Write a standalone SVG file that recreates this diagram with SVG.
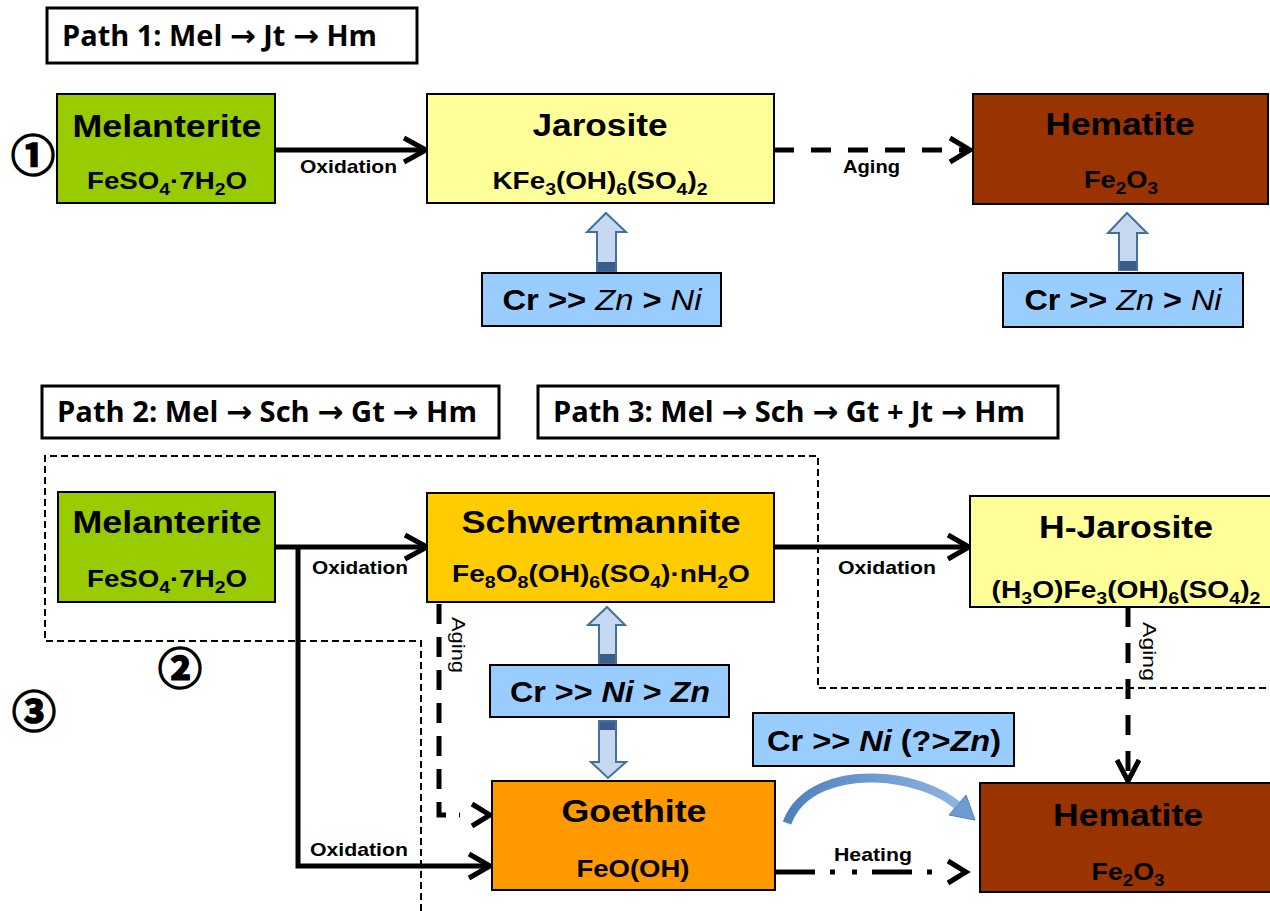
<svg xmlns="http://www.w3.org/2000/svg" width="1270" height="911" viewBox="0 0 1270 911">
<defs>
<style>
.bx{stroke:#000;stroke-width:2}
.pb{fill:#fff;stroke:#000;stroke-width:3}
.t{font-family:"Liberation Sans",Arial,sans-serif;font-weight:bold;fill:#000}
.ti{font-size:31px;text-anchor:middle}
.fo{font-size:23px;text-anchor:middle}
.lb{font-size:19px}
.cr{font-size:30px;text-anchor:middle}
.pt{font-family:"Open Sans","Liberation Sans",sans-serif;font-weight:bold;font-size:28px;fill:#000}
.ar{font-family:"DejaVu Sans",sans-serif;font-weight:bold;font-size:30px}
.num{font-family:"Noto Sans CJK JP","DejaVu Sans",sans-serif;font-weight:bold;font-size:44px;text-anchor:middle;fill:#000;stroke:#000;stroke-width:1.6}
.ln{stroke:#000;stroke-width:5;fill:none}
.hd{stroke:#000;stroke-width:5;fill:none;stroke-linejoin:miter;stroke-linecap:butt}
.dsh{stroke-dasharray:20 17}
.bd{stroke:#000;stroke-width:2;fill:none;stroke-dasharray:7 4}
.ba{fill:#C6D9F1;stroke:#41719C;stroke-width:2}
.bk{fill:#385D8A}
.it{font-style:italic;font-weight:normal}
.bi{font-style:italic}
</style>
<linearGradient id="cg" x1="0" y1="0" x2="1" y2="0">
<stop offset="0" stop-color="#4F81BD"/>
<stop offset="1" stop-color="#8DB3E2"/>
</linearGradient>
</defs>
<rect width="1270" height="911" fill="#fff"/>

<!-- boundary -->
<polyline class="bd" points="421,911 421,641 45,641 45,456 818,456 818,688 1270,688"/>

<!-- path labels -->
<g id="path1"><rect class="pb" x="47" y="8" width="370" height="55"/><text class="pt" x="62" y="46" textLength="315" lengthAdjust="spacingAndGlyphs">Path 1: Mel <tspan class="ar">→</tspan> Jt <tspan class="ar">→</tspan> Hm</text></g>
<g id="path2"><rect class="pb" x="42" y="386" width="457" height="52"/><text class="pt" x="57" y="422" textLength="420" lengthAdjust="spacingAndGlyphs">Path 2: Mel <tspan class="ar">→</tspan> Sch <tspan class="ar">→</tspan> Gt <tspan class="ar">→</tspan> Hm</text></g>
<g id="path3"><rect class="pb" x="538" y="386" width="520" height="52"/><text class="pt" x="553" y="422" textLength="472" lengthAdjust="spacingAndGlyphs">Path 3: Mel <tspan class="ar">→</tspan> Sch <tspan class="ar">→</tspan> Gt + Jt <tspan class="ar">→</tspan> Hm</text></g>

<!-- circled numbers -->
<text class="num" x="33" y="153" dominant-baseline="central">①</text>
<text class="num" x="180" y="666" dominant-baseline="central">②</text>
<text class="num" x="34" y="709" dominant-baseline="central">③</text>

<!-- connectors -->
<g id="connectors">
<line class="ln" x1="275" y1="150" x2="424" y2="150"/>
<polyline class="hd" points="404,138 426,150 404,162"/>
<line class="ln dsh" x1="774" y1="150" x2="966" y2="150"/>
<polyline class="hd" points="950,138 970,150 950,162"/>

<polyline class="ln" points="275,547 425,547"/>
<polyline class="hd" points="405,535 427,547 405,559"/>
<polyline class="ln" points="298,547 298,866 488,866"/>
<polyline class="hd" points="469,854 490,866 469,878"/>
<line class="ln" x1="774" y1="547" x2="966" y2="547"/>
<polyline class="hd" points="948,535 969,547 948,559"/>

<polyline class="ln" style="stroke-dasharray:20 13" points="439,604 439,815 460,815"/>
<polyline class="hd" points="472,804 490,815 472,826"/>

<line class="ln" style="stroke-dasharray:20 16" x1="1128" y1="607" x2="1128" y2="778"/>
<polyline class="hd" points="1117,760 1128,781 1139,760"/>

<line class="ln" style="stroke-dasharray:40 15 5 17 5 15" x1="775" y1="872" x2="940" y2="872"/>
<polyline class="hd" points="948,861 966,872 948,883"/>

<path d="M787,823 C800,788 840,777 875,778 C910,779 940,791 957,805" fill="none" stroke="url(#cg)" stroke-width="9"/>
<polygon points="966,795 975,820 949,815" fill="#6F9BD2" stroke="#4F81BD" stroke-width="1"/>

<!-- block arrows -->
<polygon class="ba" points="606,213 626,232 616,232 616,271 597,271 597,232 587,232"/>
<rect class="bk" x="598" y="262" width="17" height="9"/>
<polygon class="ba" points="1127,213 1147,233 1137,233 1137,270 1119,270 1119,233 1108,233"/>
<rect class="bk" x="1120" y="261" width="16" height="9"/>
<polygon class="ba" points="607,607 625,625 616,625 616,663 599,663 599,625 588,625"/>
<rect class="bk" x="600" y="654" width="15" height="9"/>
<polygon class="ba" points="599,721 616,721 616,762 626,762 608,778 591,762 599,762"/>
<rect class="bk" x="600" y="722" width="15" height="8"/>
</g>

<!-- labels on connectors -->
<text class="t lb" x="300" y="173" textLength="97" lengthAdjust="spacingAndGlyphs">Oxidation</text>
<text class="t lb" x="843" y="173" textLength="57" lengthAdjust="spacingAndGlyphs">Aging</text>
<text class="t lb" x="312" y="574" textLength="96" lengthAdjust="spacingAndGlyphs">Oxidation</text>
<text class="t lb" x="310" y="856" textLength="98" lengthAdjust="spacingAndGlyphs">Oxidation</text>
<text class="t lb" x="838" y="574" textLength="98" lengthAdjust="spacingAndGlyphs">Oxidation</text>
<text class="t lb" x="834" y="861" textLength="78" lengthAdjust="spacingAndGlyphs">Heating</text>
<text class="t lb" transform="translate(452,617) rotate(90)" textLength="56" lengthAdjust="spacingAndGlyphs" style="font-weight:normal">Aging</text>
<text class="t lb" transform="translate(1143,622) rotate(90)" textLength="59" lengthAdjust="spacingAndGlyphs" style="font-weight:normal">Aging</text>

<!-- nodes -->
<g id="mel1">
<rect class="bx" x="57" y="94" width="218" height="109" fill="#99CC00"/>
<text class="t ti" x="167" y="137" textLength="189" lengthAdjust="spacingAndGlyphs">Melanterite</text>
<text class="t fo" x="167" y="189" textLength="160" lengthAdjust="spacingAndGlyphs">FeSO<tspan font-size="16" dy="6">4</tspan><tspan dy="-6">·7H</tspan><tspan font-size="16" dy="6">2</tspan><tspan dy="-6">O</tspan></text>
</g>
<g id="jarosite">
<rect class="bx" x="427" y="94" width="347" height="109" fill="#FFFF99"/>
<text class="t ti" x="600" y="136" textLength="135" lengthAdjust="spacingAndGlyphs">Jarosite</text>
<text class="t fo" x="600" y="189" textLength="215" lengthAdjust="spacingAndGlyphs">KFe<tspan font-size="16" dy="6">3</tspan><tspan dy="-6">(OH)</tspan><tspan font-size="16" dy="6">6</tspan><tspan dy="-6">(SO</tspan><tspan font-size="16" dy="6">4</tspan><tspan dy="-6">)</tspan><tspan font-size="16" dy="6">2</tspan></text>
</g>
<g id="hematite1">
<rect class="bx" x="973" y="94" width="295" height="110" fill="#993300"/>
<text class="t ti" x="1120" y="135" textLength="149" lengthAdjust="spacingAndGlyphs">Hematite</text>
<text class="t fo" x="1121" y="188" textLength="74" lengthAdjust="spacingAndGlyphs">Fe<tspan font-size="16" dy="6">2</tspan><tspan dy="-6">O</tspan><tspan font-size="16" dy="6">3</tspan></text>
</g>
<g id="cr1">
<rect class="bx" x="482" y="273" width="239" height="53" fill="#99CCFF"/>
<text class="t cr" x="602" y="310" textLength="199" lengthAdjust="spacingAndGlyphs">Cr &gt;&gt; <tspan class="it">Zn</tspan> &gt; <tspan class="it">Ni</tspan></text>
</g>
<g id="cr2">
<rect class="bx" x="1003" y="273" width="240" height="54" fill="#99CCFF"/>
<text class="t cr" x="1123" y="310" textLength="197" lengthAdjust="spacingAndGlyphs">Cr &gt;&gt; <tspan class="it">Zn</tspan> &gt; <tspan class="it">Ni</tspan></text>
</g>

<g id="mel2">
<rect class="bx" x="58" y="492" width="217" height="110" fill="#99CC00"/>
<text class="t ti" x="167" y="533" textLength="189" lengthAdjust="spacingAndGlyphs">Melanterite</text>
<text class="t fo" x="167" y="587" textLength="160" lengthAdjust="spacingAndGlyphs">FeSO<tspan font-size="16" dy="6">4</tspan><tspan dy="-6">·7H</tspan><tspan font-size="16" dy="6">2</tspan><tspan dy="-6">O</tspan></text>
</g>
<g id="schwertmannite">
<rect class="bx" x="427" y="493" width="347" height="109" fill="#FFCC00"/>
<text class="t ti" x="601" y="533" textLength="279" lengthAdjust="spacingAndGlyphs">Schwertmannite</text>
<text class="t fo" x="601" y="582" textLength="298" lengthAdjust="spacingAndGlyphs">Fe<tspan font-size="16" dy="6">8</tspan><tspan dy="-6">O</tspan><tspan font-size="16" dy="6">8</tspan><tspan dy="-6">(OH)</tspan><tspan font-size="16" dy="6">6</tspan><tspan dy="-6">(SO</tspan><tspan font-size="16" dy="6">4</tspan><tspan dy="-6">)·nH</tspan><tspan font-size="16" dy="6">2</tspan><tspan dy="-6">O</tspan></text>
</g>
<g id="hjarosite">
<rect class="bx" x="970" y="496" width="320" height="111" fill="#FFFF99"/>
<text class="t ti" x="1126" y="538" textLength="174" lengthAdjust="spacingAndGlyphs">H-Jarosite</text>
<text class="t fo" x="1126" y="598" textLength="269" lengthAdjust="spacingAndGlyphs">(H<tspan font-size="16" dy="6">3</tspan><tspan dy="-6">O)Fe</tspan><tspan font-size="16" dy="6">3</tspan><tspan dy="-6">(OH)</tspan><tspan font-size="16" dy="6">6</tspan><tspan dy="-6">(SO</tspan><tspan font-size="16" dy="6">4</tspan><tspan dy="-6">)</tspan><tspan font-size="16" dy="6">2</tspan></text>
</g>
<g id="cr3">
<rect class="bx" x="490" y="665" width="239" height="52" fill="#99CCFF"/>
<text class="t cr" x="610" y="702" textLength="200" lengthAdjust="spacingAndGlyphs">Cr &gt;&gt; <tspan class="bi">Ni</tspan> &gt; <tspan class="bi">Zn</tspan></text>
</g>
<g id="cr4">
<rect class="bx" x="753" y="713" width="261" height="53" fill="#99CCFF"/>
<text class="t cr" x="884" y="751" textLength="234" lengthAdjust="spacingAndGlyphs">Cr &gt;&gt; <tspan class="bi">Ni</tspan> (?&gt;<tspan class="bi">Zn</tspan>)</text>
</g>
<g id="goethite">
<rect class="bx" x="492" y="781" width="283" height="109" fill="#FF9900"/>
<text class="t ti" x="634" y="822" textLength="145" lengthAdjust="spacingAndGlyphs">Goethite</text>
<text class="t fo" x="633" y="877" textLength="113" lengthAdjust="spacingAndGlyphs">FeO(OH)</text>
</g>
<g id="hematite2">
<rect class="bx" x="980" y="783" width="300" height="109" fill="#993300"/>
<text class="t ti" x="1128" y="826" textLength="150" lengthAdjust="spacingAndGlyphs">Hematite</text>
<text class="t fo" x="1128" y="880" textLength="73" lengthAdjust="spacingAndGlyphs">Fe<tspan font-size="16" dy="6">2</tspan><tspan dy="-6">O</tspan><tspan font-size="16" dy="6">3</tspan></text>
</g>
</svg>
